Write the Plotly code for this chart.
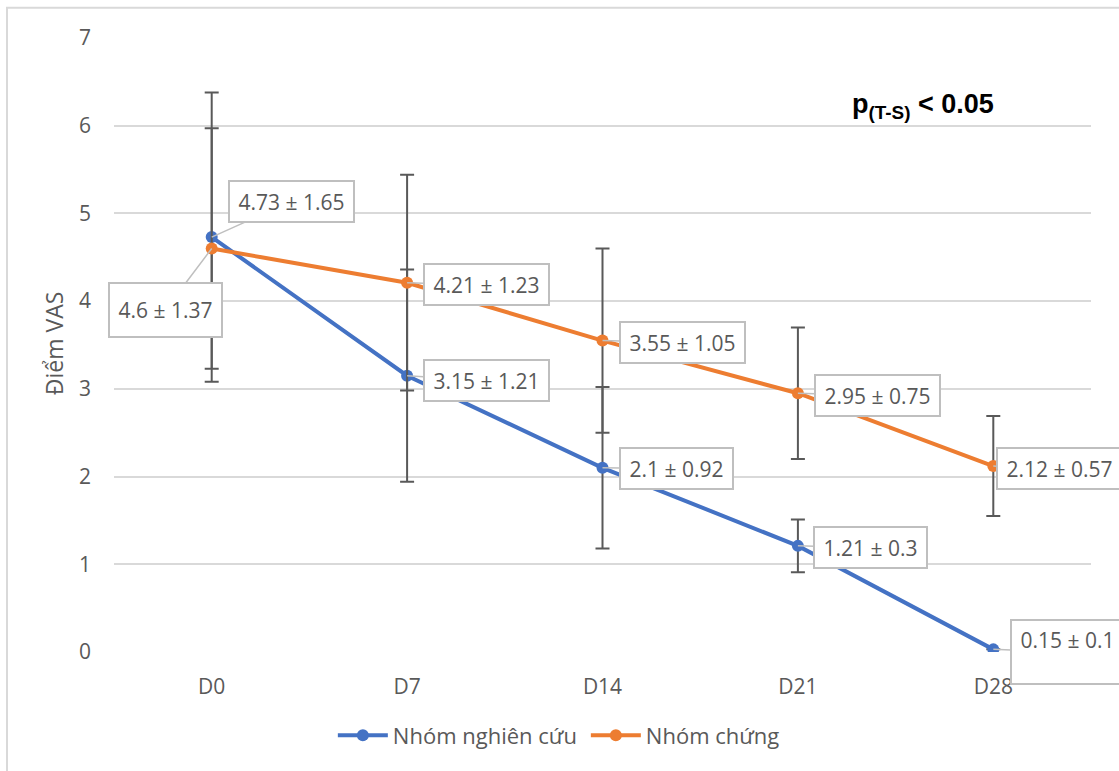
import plotly.graph_objects as go

# ---- data ----
categories = ["D0", "D7", "D14", "D21", "D28"]
study_mean = [4.73, 3.15, 2.10, 1.21, 0.03]
study_sd = [1.65, 1.21, 0.92, 0.30, None]
study_labels = ["4.73 ± 1.65", "3.15 ± 1.21", "2.1 ± 0.92", "1.21 ± 0.3", "0.15 ± 0.1"]
control_mean = [4.60, 4.21, 3.55, 2.95, 2.12]
control_sd = [1.37, 1.23, 1.05, 0.75, 0.57]
control_labels = ["4.6 ± 1.37", "4.21 ± 1.23", "3.55 ± 1.05", "2.95 ± 0.75", "2.12 ± 0.57"]
y_ticks = [0, 1, 2, 3, 4, 5, 6, 7]

# ---- style ----
BLUE = "#4472C4"
ORANGE = "#ED7D31"
TXT = "#595959"
GRID = "#D9D9D9"
FONT = "Open Sans"

# (ax, ay, text-area height, vertical align) for each callout
study_callouts = [(80, -36, 29, "middle"), (79, 5, 29, "middle"), (74, 1, 29, "middle"),
                  (73, 2, 29, "middle"), (74, 3, 52, "top")]
control_callouts = [(-46, 61, 42, "middle"), (79, 2, 29, "middle"), (80, 2, 29, "middle"),
                    (80, 2, 29, "middle"), (66, 2, 29, "middle")]

fig = go.Figure()

err_style = dict(type="data", visible=True, color="#595959", thickness=2, width=7)

fig.add_trace(go.Scatter(
    x=categories, y=study_mean, name="Nhóm nghiên cứu", mode="lines+markers",
    line=dict(color=BLUE, width=4), marker=dict(color=BLUE, size=12),
    error_y=dict(array=[v if v is not None else float("nan") for v in study_sd], **err_style),
))
fig.add_trace(go.Scatter(
    x=categories, y=control_mean, name="Nhóm chứng", mode="lines+markers",
    line=dict(color=ORANGE, width=4), marker=dict(color=ORANGE, size=12),
    error_y=dict(array=control_sd, **err_style),
))

annotations = []
def add_labels(means, labels, callouts):
    for c, m, t, (ax, ay, h, va) in zip(categories, means, labels, callouts):
        annotations.append(dict(
            x=c, y=m, xref="x", yref="y", text="\u2009" + t + "\u2009",
            showarrow=True, ax=ax, ay=ay, arrowhead=0, arrowwidth=1.5,
            arrowcolor="#BFBFBF", standoff=0, startstandoff=0,
            height=h, valign=va,
            bgcolor="white", bordercolor="#BFBFBF", borderwidth=2, borderpad=5,
            font=dict(family=FONT, size=21, color=TXT)))

add_labels(study_mean, study_labels, study_callouts)
add_labels(control_mean, control_labels, control_callouts)

annotations.append(dict(
    xref="paper", yref="paper", x=0.753, y=0.89, xanchor="left", yanchor="middle",
    text="<b>p<sub>(T-S)</sub> &lt; 0.05</b>", showarrow=False,
    font=dict(family="Liberation Sans", size=27, color="black")))

annotations.append(dict(
    xref="paper", yref="paper", x=-0.0614, y=0.503, xanchor="center", yanchor="middle",
    text="Điểm VAS", textangle=-90, showarrow=False,
    font=dict(family=FONT, size=23, color=TXT)))

fig.update_layout(
    width=1119, height=771,
    margin=dict(l=114, r=28, t=38, b=119),
    paper_bgcolor="white", plot_bgcolor="white",
    font=dict(family=FONT, size=21, color=TXT),
    showlegend=True,
    legend=dict(orientation="h", x=0.224, xanchor="left", y=-0.136, yanchor="middle",
                font=dict(family=FONT, size=22, color=TXT), itemwidth=50,
                entrywidth=188, entrywidthmode="pixels",
                bgcolor="rgba(0,0,0,0)"),
    annotations=annotations,
    shapes=[dict(type="rect", xref="paper", yref="paper", x0=-0.1095, x1=1.3,
                 y0=-0.5, y1=1.0494, line=dict(color=GRID, width=2), layer="below")],
)
fig.update_xaxes(type="category", range=[-0.5, 4.5], showgrid=False, showline=False,
                 zeroline=False, ticks="", ticklabelstandoff=20,
                 tickfont=dict(family=FONT, size=21, color=TXT))
fig.update_yaxes(range=[0, 7], tickvals=y_ticks, showgrid=True, gridcolor=GRID, gridwidth=2,
                 zeroline=False, showline=False, ticks="", ticklabelstandoff=22,
                 tickfont=dict(family=FONT, size=21, color=TXT))

fig.write_html("out.html")
